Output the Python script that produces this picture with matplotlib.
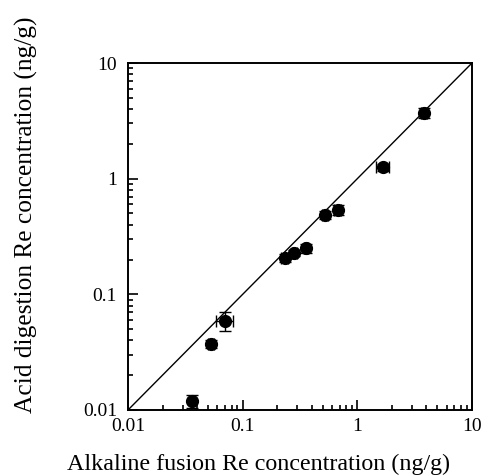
import numpy as np
import matplotlib
matplotlib.use("Agg")
import matplotlib.pyplot as plt
from matplotlib.ticker import LogLocator, FixedFormatter, FixedLocator, NullFormatter

# Re concentrations (ng/g)
alkaline = [0.036, 0.053, 0.070, 0.232, 0.283, 0.359, 0.526, 0.674, 1.67, 3.84]
acid = [0.012, 0.0375, 0.059, 0.206, 0.228, 0.251, 0.49, 0.54, 1.25, 3.70]
alkaline_err = [0.001, 0.003, 0.012, 0.015, 0.012, 0.015, 0.03, 0.05, 0.21, 0.25]
acid_err = [0.0015, 0.003, 0.011, 0.015, 0.012, 0.022, 0.04, 0.05, 0.08, 0.35]
tick_vals = [0.01, 0.1, 1, 10]
tick_labels = ["0.01", "0.1", "1", "10"]

plt.rcParams["font.family"] = ["Liberation Serif", "DejaVu Serif"]

fig = plt.figure(figsize=(4.84, 4.75), dpi=100)
ax = fig.add_axes([128 / 484, 65 / 475, 344 / 484, 347 / 475])

ax.plot([0.01, 10], [0.01, 10], color="black", linewidth=1.0)
ax.errorbar(alkaline, acid, xerr=alkaline_err, yerr=acid_err, fmt="o",
            color="black", markersize=8.5, elinewidth=1.0, capsize=4,
            capthick=1.0)

ax.set_xscale("log")
ax.set_yscale("log")
ax.set_xlim(0.01, 10)
ax.set_ylim(0.01, 10)

for axis in (ax.xaxis, ax.yaxis):
    axis.set_major_locator(FixedLocator(tick_vals))
    axis.set_major_formatter(FixedFormatter(tick_labels))
    axis.set_minor_locator(LogLocator(base=10, subs=np.arange(2, 10)))
    axis.set_minor_formatter(NullFormatter())

ax.tick_params(which="both", direction="in", top=False, right=False,
               labelsize=14, width=1.2)
ax.tick_params(axis="x", which="major", pad=6)
ax.tick_params(axis="y", which="major", pad=8)
ax.tick_params(which="major", length=7)
ax.tick_params(which="minor", length=3.5)
for sp in ax.spines.values():
    sp.set_linewidth(1.4)

ax.set_xlabel("Alkaline fusion Re concentration (ng/g)", fontsize=17.3,
              va="center", ha="center")
ax.xaxis.set_label_coords(0.378, -0.158)
ax.set_ylabel("Acid digestion Re concentration (ng/g)", fontsize=18.3,
              va="center", ha="center")
ax.yaxis.set_label_coords(-0.2965, 0.562)

fig.savefig("out.png", dpi=100)
